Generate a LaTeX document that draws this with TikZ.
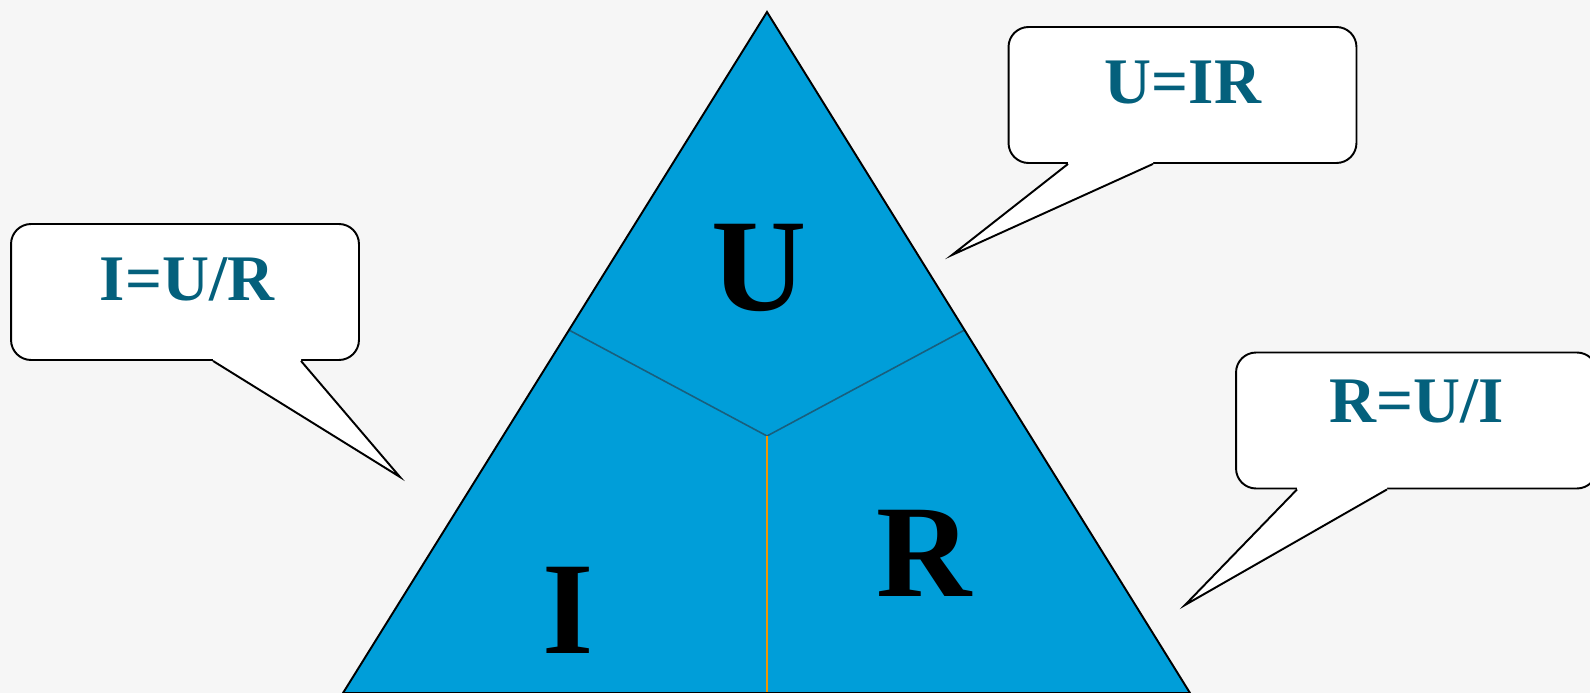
\documentclass[tikz,border=0pt]{standalone}
\usepackage{fontspec}
\setmainfont{Liberation Serif}
\usepackage{xcolor}
\usetikzlibrary{positioning, calc}

\definecolor{triblue}{RGB}{0,158,217}
\definecolor{lawteal}{RGB}{4,96,124}
\definecolor{splitteal}{RGB}{25,95,125}
\definecolor{splitorange}{RGB}{240,150,0}
\definecolor{paper}{RGB}{246,246,246}

\begin{document}
\begin{tikzpicture}[
    x=0.02cm, y=-0.02cm,
    letter/.style={font=\fontsize{75}{80}\selectfont\bfseries, inner sep=0pt},
    law/.style={font=\fontsize{37}{40}\selectfont\bfseries, text=lawteal, inner sep=0pt, anchor=base},
    bubble/.style={draw, fill=white, line width=1.1pt, rounded corners=0.4cm, minimum width=6.96cm, minimum height=2.72cm},
    tail/.style={draw, line width=1.1pt, line join=miter},
    split/.style={draw=splitteal, line width=0.9pt},
]

% background
\fill[paper] (0,0) rectangle (1590,693);
\useasboundingbox (0,0) rectangle (1590,693);

% triangle
\coordinate (apex) at (767,12);
\coordinate (baseL) at (343,693);
\coordinate (baseR) at (1190,693);
\coordinate (centre) at (767,436);
\coordinate (cutL) at ($(apex)!0.467!(baseL)$);
\coordinate (cutR) at ($(apex)!0.467!(baseR)$);

\fill[triblue] (apex) -- (baseL) -- (baseR) -- cycle;
\draw[split] (cutL) -- (centre) -- (cutR);
\draw[draw=splitorange, line width=0.7pt] (centre) -- (baseR -| centre);
\draw[line width=1.1pt, line join=miter] (apex) -- (baseL) -- (baseR) -- cycle;

\node[letter] (U) at (759,268) {U};
\node[letter] (I) at (568,610) {I};
\node[letter] (R) at (924,553) {R};

% callouts
\node[bubble] (bubI) at (185,292) {};
\node[bubble] (bubU) at (1182.5,95) {};
\node[bubble, minimum width=7.22cm] (bubR) at (1416.5,420.5) {};

\coordinate (tipI) at (400,477);
\coordinate (tipU) at (952,255);
\coordinate (tipR) at (1185,605);

\fill[white] ($(bubI.south)+(28,-4)$) -- ($(bubI.south)+(28,0)$) -- (tipI) -- ($(bubI.south)+(116,0)$) -- ($(bubI.south)+(116,-4)$) -- cycle;
\draw[tail] ($(bubI.south)+(28,0)$) -- (tipI) -- ($(bubI.south)+(116,0)$);
\fill[white] ($(bubU.south)+(-114.5,-4)$) -- ($(bubU.south)+(-114.5,0)$) -- (tipU) -- ($(bubU.south)+(-29.5,0)$) -- ($(bubU.south)+(-29.5,-4)$) -- cycle;
\draw[tail] ($(bubU.south)+(-114.5,0)$) -- (tipU) -- ($(bubU.south)+(-29.5,0)$);
\fill[white] ($(bubR.south)+(-119.5,-4)$) -- ($(bubR.south)+(-119.5,0)$) -- (tipR) -- ($(bubR.south)+(-29.5,0)$) -- ($(bubR.south)+(-29.5,-4)$) -- cycle;
\draw[tail] ($(bubR.south)+(-119.5,0)$) -- (tipR) -- ($(bubR.south)+(-29.5,0)$);

\node[law] (lawI) at ($(bubI.center)+(2,8)$) {I=U/R};
\node[law] (lawU) at ($(bubU.center)+(0.5,8)$) {U=IR};
\node[law] (lawR) at ($(bubR.center)+(0.5,1.5)$) {R=U/I};

\end{tikzpicture}
\end{document}
